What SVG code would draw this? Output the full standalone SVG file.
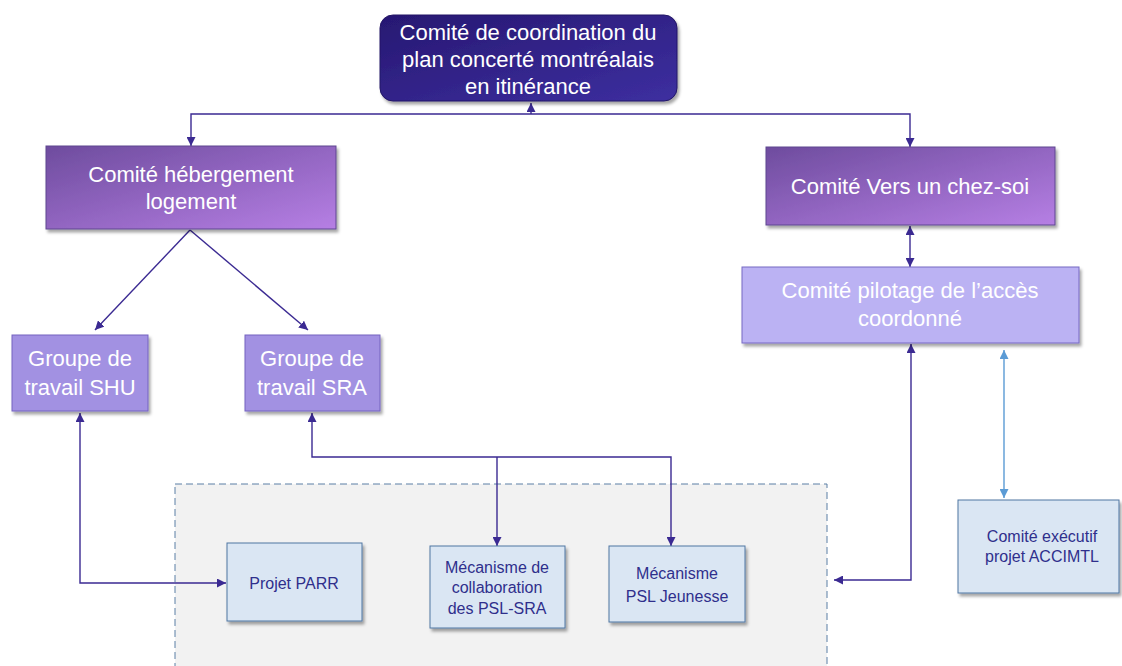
<svg xmlns="http://www.w3.org/2000/svg" width="1122" height="666" viewBox="0 0 1122 666">
  <defs>
    <linearGradient id="gTop" x1="0" y1="0" x2="1" y2="1">
      <stop offset="0" stop-color="#271872"/>
      <stop offset="1" stop-color="#3d2fa0"/>
    </linearGradient>
    <linearGradient id="gPurple" x1="0" y1="0" x2="1" y2="1">
      <stop offset="0" stop-color="#6e4c9e"/>
      <stop offset="1" stop-color="#b67fe4"/>
    </linearGradient>
    <filter id="sh" x="-10%" y="-10%" width="130%" height="140%">
      <feDropShadow dx="2" dy="3" stdDeviation="1.8" flood-color="#000" flood-opacity="0.35"/>
    </filter>
    <marker id="ah" viewBox="0 0 10 10" refX="10" refY="5" markerWidth="9" markerHeight="9" markerUnits="userSpaceOnUse" orient="auto-start-reverse">
      <path d="M0,0 L10,5 L0,10 Z" fill="#3b2a92"/>
    </marker>
    <marker id="ahb" viewBox="0 0 10 10" refX="10" refY="5" markerWidth="9" markerHeight="9" markerUnits="userSpaceOnUse" orient="auto-start-reverse">
      <path d="M0,0 L10,5 L0,10 Z" fill="#5b9bd5"/>
    </marker>
    <style>
      .big { font-family: "Liberation Sans", Arial, sans-serif; font-size: 22px; fill: #ffffff; text-anchor: middle; }
      .small { font-family: "Liberation Sans", Arial, sans-serif; font-size: 16px; fill: #2f2f8c; text-anchor: middle; }
      .purple { fill: url(#gPurple); stroke: #5f4690; stroke-width: 1; filter: url(#sh); }
      .lav { fill: #a291e2; stroke: #7463c0; stroke-width: 1; filter: url(#sh); }
      .pilot { fill: #bbb2f3; stroke: #7669c4; stroke-width: 1; filter: url(#sh); }
      .lb { fill: #dae6f3; stroke: #4f76a2; stroke-width: 1; filter: url(#sh); }
      .c { fill: none; stroke: #3b2a92; stroke-width: 1.4; }
      .cb { fill: none; stroke: #5b9bd5; stroke-width: 1.4; }
    </style>
  </defs>

  <rect width="1122" height="666" fill="#ffffff"/>

  <g id="group-zone">
    <rect x="175" y="484" width="652" height="200" fill="#f2f2f2" stroke="#5b7fa5" stroke-width="1" stroke-dasharray="7,4"/>
  </g>

  <g id="connectors">
    <path class="c" d="M531,114 L531,103" marker-end="url(#ah)"/>
    <path class="c" d="M191,146 L191,114 L910,114 L910,147" marker-start="url(#ah)" marker-end="url(#ah)"/>
    <path class="c" d="M190,230 L95,330" marker-end="url(#ah)"/>
    <path class="c" d="M190,230 L308,330" marker-end="url(#ah)"/>
    <path class="c" d="M910,226 L910,267" marker-start="url(#ah)" marker-end="url(#ah)"/>
    <path class="c" d="M911,344 L911,580 L834,580" marker-start="url(#ah)" marker-end="url(#ah)"/>
    <path class="cb" d="M1004,350 L1004,498" marker-start="url(#ahb)" marker-end="url(#ahb)"/>
    <path class="c" d="M80,413 L80,583 L226,583" marker-start="url(#ah)" marker-end="url(#ah)"/>
    <path class="c" d="M312,413 L312,457 L671,457 L671,546" marker-start="url(#ah)" marker-end="url(#ah)"/>
    <path class="c" d="M497,457 L497,546" marker-end="url(#ah)"/>
  </g>

  <g id="coordination">
    <rect x="380" y="15" width="297" height="86" rx="13" fill="url(#gTop)" stroke="#231766" stroke-width="1" filter="url(#sh)"/>
    <text class="big" x="528" y="40">Comité de coordination du</text>
    <text class="big" x="528" y="67">plan concerté montréalais</text>
    <text class="big" x="528" y="94">en itinérance</text>
  </g>

  <g id="hebergement">
    <rect class="purple" x="46" y="146" width="290" height="83"/>
    <text class="big" x="191" y="182">Comité hébergement</text>
    <text class="big" x="191" y="209">logement</text>
  </g>

  <g id="chez-soi">
    <rect class="purple" x="766" y="147" width="289" height="78"/>
    <text class="big" x="910" y="194">Comité Vers un chez-soi</text>
  </g>

  <g id="pilotage">
    <rect class="pilot" x="742" y="267" width="337" height="76"/>
    <text class="big" x="910" y="298">Comité pilotage de l’accès</text>
    <text class="big" x="910" y="326">coordonné</text>
  </g>

  <g id="shu">
    <rect class="lav" x="12" y="335" width="136" height="76"/>
    <text class="big" x="80" y="366">Groupe de</text>
    <text class="big" x="80" y="395">travail SHU</text>
  </g>

  <g id="sra">
    <rect class="lav" x="245" y="335" width="135" height="76"/>
    <text class="big" x="312" y="366">Groupe de</text>
    <text class="big" x="312" y="395">travail SRA</text>
  </g>

  <g id="parr">
    <rect class="lb" x="227" y="543" width="135" height="78"/>
    <text class="small" x="294" y="589">Projet PARR</text>
  </g>

  <g id="psl-sra">
    <rect class="lb" x="430" y="546" width="135" height="82"/>
    <text class="small" x="497" y="573">Mécanisme de</text>
    <text class="small" x="497" y="593">collaboration</text>
    <text class="small" x="497" y="614">des PSL-SRA</text>
  </g>

  <g id="psl-jeunesse">
    <rect class="lb" x="609" y="546" width="136" height="76"/>
    <text class="small" x="677" y="579">Mécanisme</text>
    <text class="small" x="677" y="602">PSL Jeunesse</text>
  </g>

  <g id="accimtl">
    <rect class="lb" x="958" y="500" width="161" height="93"/>
    <text class="small" x="1042" y="542">Comité exécutif</text>
    <text class="small" x="1042" y="562">projet ACCIMTL</text>
  </g>
</svg>
